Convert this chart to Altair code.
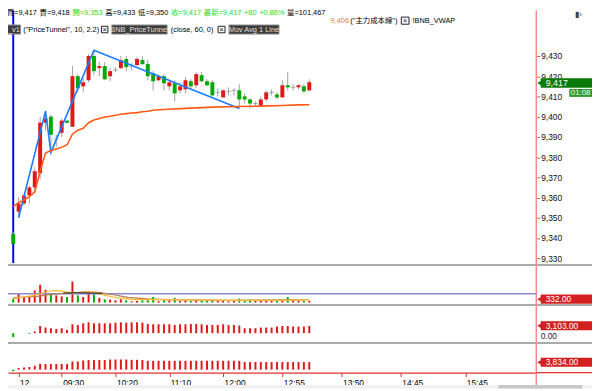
import altair as alt
import pandas as pd

FONT = "Liberation Sans, Arial, Noto Sans CJK TC, sans-serif"
RED = "#E01818"
GREEN = "#00AA00"
WICK = "#A0A0A0"

# ---------------- data ----------------
bar_index = list(range(56))
open_ = [9342, 9353, 9357, 9361, 9365, 9372, 9397, 9400, 9389, 9392, 9398, 9395, 9420, 9415, 9418, 9430,
         9424, 9425, 9420, 9423, 9424, 9428.5, 9425, 9425.5, 9428, 9426, 9421.5, 9418, 9420, 9415, 9416.5,
         9413, 9413.5, 9417.5, 9415.5, 9420.5, 9417.5, 9417, 9412, 9409.5, 9412.5, 9413, 9413, 9410, 9408.5,
         9406.5, 9405.5, 9408.5, 9412, 9411, 9409.5, 9415.5, 9414.5, 9414.5, 9415, 9413]
high = [9343, 9360, 9362, 9366, 9375, 9400, 9403, 9401, 9391, 9399, 9398.5, 9425, 9421, 9419, 9431, 9433,
        9427, 9427, 9424, 9424.5, 9430, 9430, 9426.5, 9429.5, 9430, 9428, 9422.5, 9421, 9421, 9418, 9418,
        9417, 9419.5, 9418.5, 9422, 9422, 9418.5, 9418, 9414, 9413.5, 9414.5, 9414, 9416, 9411.5, 9409,
        9407.5, 9410, 9413, 9413.5, 9412, 9418, 9422, 9416, 9416, 9416, 9418.5]
low = [9337, 9350, 9356, 9357, 9362, 9369, 9393, 9382, 9385, 9390, 9396.5, 9395, 9412, 9412, 9417, 9420.5,
       9420, 9418, 9417.5, 9422, 9423.5, 9422.5, 9423, 9425, 9425.5, 9418, 9413, 9417.5, 9413, 9413, 9407.5,
       9411.5, 9411.5, 9413.5, 9414, 9417, 9415, 9410, 9410, 9409.5, 9410.5, 9410.5, 9404, 9406.5, 9404,
       9405, 9405, 9407.5, 9410.5, 9408.5, 9409.5, 9413, 9413, 9413.5, 9411.5, 9412.5]
close = [9337, 9357, 9361, 9365, 9373, 9397, 9399, 9391, 9389, 9398, 9397, 9420, 9414, 9417, 9430, 9422.5,
         9425, 9418.5, 9422.5, 9423, 9428, 9424.5, 9425, 9428.5, 9426, 9420, 9417.5, 9420, 9416.5, 9417, 9411.5,
         9415, 9418, 9415, 9421, 9417.5, 9415.5, 9410.5, 9412, 9413, 9412.5, 9413, 9408.5, 9408.5, 9406.5,
         9406.5, 9408.5, 9412, 9412, 9409.5, 9415.5, 9414.5, 9414.5, 9415.5, 9412.5, 9417]
volume = [780, 1755, 1110, 1110, 2400, 3510, 2535, 1755, 1425, 1230, 1110, 4155, 1425, 1110, 2205, 1620,
          915, 645, 585, 450, 645, 450, 255, 330, 450, 585, 1110, 330, 450, 450, 915, 330, 450, 330, 450,
          330, 330, 585, 450, 330, 255, 330, 780, 450, 585, 330, 330, 450, 330, 330, 585, 1110, 450, 330,
          330, 332]
net_force = [-1700, 0, 0, -300, 720, 3100, 2420, 2125, 1830, 2125, 1400, 3825, 3530, 4250, 4675, 4250,
             4250, 4250, 4250, 4530, 4675, 4530, 4675, 4675, 4530, 3950, 3825, 3825, 3825, 3825, 3530, 3825,
             3825, 3950, 3950, 3825, 3530, 3530, 3530, 3825, 3530, 3530, 3270, 2125, 2125, 2125, 2420, 2420,
             2420, 2850, 3100, 3100, 2850, 2850, 2850, 3103]
main_force = [-800, 850, 1150, 1350, 2000, 3000, 2850, 2850, 2850, 2850, 2850, 4150, 4150, 4650, 4850,
              4850, 4850, 4850, 5150, 5150, 5150, 5150, 5000, 5000, 4850, 4500, 4500, 4500, 4500, 4500,
              4500, 4500, 4500, 4500, 4500, 4500, 4500, 4500, 4500, 4500, 4500, 4500, 4500, 3850, 3850,
              3850, 3850, 3850, 3850, 3850, 3850, 3850, 3850, 3850, 3850, 3834]

vwap_idx = [0, 1, 2, 3, 4, 5, 6, 7, 8, 9, 10, 11, 12, 13, 14, 15, 16, 17, 18, 19, 20, 21, 22, 23, 24, 25,
            26, 27, 28, 32, 37, 42, 46, 50, 53, 55]
vwap_val = [9355.5, 9357.5, 9358.8, 9360.4, 9362.8, 9373, 9382, 9383.2, 9384, 9384.8, 9386.1, 9391.3,
            9393.3, 9394.2, 9397, 9398.3, 9399.1, 9399.8, 9400.2, 9400.7, 9401.2, 9401.5, 9401.8, 9402,
            9402.4, 9402.7, 9403.2, 9403.4, 9403.5, 9404.1, 9404.7, 9405, 9405.2, 9405.5, 9405.8, 9405.9]
zig_idx = [1, 6, 7, 15, 42]
zig_val = [9350, 9402.7, 9382.3, 9432.8, 9404]

ma1_idx = [0, 2.1, 4.5, 6.3, 7.8, 9.3, 11.1, 13.5, 15.3, 17.1, 19.5, 22.5, 30, 40, 50, 55]
ma1_val = [780, 1110, 1560, 2200, 2400, 2200, 1890, 2145, 2090, 1425, 915, 585, 585, 450, 450, 585]
ma2_idx = [0, 2.1, 4.5, 6.9, 10.5, 13.5, 15.9, 18.9, 21.3, 24.9, 28.5, 40, 55]
ma2_val = [915, 1110, 1230, 1620, 1890, 2145, 2010, 1500, 1035, 720, 585, 450, 585]
ma3_idx = [9.3, 12, 16.5]
ma3_val = [1890, 1950, 1815]
vol_level = [1755]

tick_idx = [1, 9, 19, 29, 39, 50, 61, 72, 84]
tick_lab = ["12", "09:30", "10:20", "11:10", "12:00", "12:55", "13:50", "14:45", "15:45"]
price_ticks = [9330, 9340, 9350, 9360, 9370, 9380, 9390, 9400, 9410, 9420, 9430]

for arr in (open_, high, low, close, volume, net_force, main_force):
    assert len(arr) == len(bar_index), len(arr)

# ---------------- frames ----------------
cdf = pd.DataFrame({"i": bar_index, "o": open_, "h": high, "l": low, "c": close,
                    "vol": volume, "p3": net_force, "p4": main_force})
cdf["dir"] = ["up" if c > o else ("down" if c < o else "flat") for o, c in zip(open_, close)]
cdf["vdir"] = ["down" if c < o else "up" for o, c in zip(open_, close)]
cdf["d3"] = ["up" if v >= 0 else "down" for v in net_force]
cdf["d4"] = ["up" if v >= 0 else "down" for v in main_force]
vw = pd.DataFrame({"i": vwap_idx, "v": vwap_val})
zz = pd.DataFrame({"i": zig_idx, "v": zig_val})
ma1 = pd.DataFrame({"i": ma1_idx, "v": ma1_val})
ma2 = pd.DataFrame({"i": ma2_idx, "v": ma2_val})
ma3 = pd.DataFrame({"i": ma3_idx, "v": ma3_val})
lvl = pd.DataFrame({"v": vol_level})
sess = pd.DataFrame({"i": [0]})
one = pd.DataFrame({"k": [0]})

# ---------------- scales / axes ----------------
label_expr = " : ".join(f"datum.value == {v} ? '{t}'" for v, t in zip(tick_idx, tick_lab)) + " : ''"
xaxis = alt.Axis(values=tick_idx, labelExpr=label_expr, title=None, grid=False,
                 domainColor="#E03030", domainWidth=1.2, tickColor="#E03030", tickSize=4,
                 labelAlign="left", labelOffset=1, labelPadding=2, labelFontSize=8.5, labelFont=FONT,
                 labelColor="#000000", labelOverlap=False, labelBound=False, labelFlush=False)
xs = alt.Scale(domain=[-0.054, 96.349], nice=False, zero=False)
X = alt.X("i:Q", scale=xs, axis=xaxis)

ps = alt.Scale(domain=[9330, 9430], range=[251, 46], nice=False, zero=False)
vs = alt.Scale(domain=[0, 7215], range=[296, 259], nice=False)
s3 = alt.Scale(domain=[0, 11900], range=[327, 299], nice=False)
s4 = alt.Scale(domain=[0, 5000], range=[364, 354], nice=False)
price_axis = alt.Axis(orient="right", values=price_ticks, format=",d", domain=False, grid=False,
                      tickSize=3, tickColor="#E05050", labelFontSize=8.5, labelFont=FONT,
                      labelColor="#101010", labelPadding=1, title=None, zindex=0,
                      labelOverlap=False, labelBound=False, labelFlush=False)
col = alt.Color("dir:N", scale=alt.Scale(domain=["up", "down", "flat"], range=[RED, GREEN, WICK]), legend=None)


def T(s, x, y, color="#000000", size=8, align="left", weight="normal"):
    return alt.Chart(one).mark_text(text=s, align=align, baseline="middle", fontSize=size, font=FONT,
                                    color=color, fontWeight=weight).encode(x=alt.value(x), y=alt.value(y))


def R(x0, x1, y0, y1, fill, stroke=None, sw=1.0):
    kw = {"fill": fill}
    if stroke:
        kw["stroke"] = stroke
        kw["strokeWidth"] = sw
    return alt.Chart(one).mark_rect(**kw).encode(x=alt.value(x0), x2=alt.value(x1),
                                                 y=alt.value(y0), y2=alt.value(y1))


def H(y, x0, x1, color, w):
    return alt.Chart(one).mark_rule(color=color, strokeWidth=w).encode(
        x=alt.value(x0), x2=alt.value(x1), y=alt.value(y))


def TRI(x, y, color, size=34):
    return alt.Chart(one).mark_point(shape="triangle-left", filled=True, size=size, color=color,
                                     opacity=1).encode(x=alt.value(x), y=alt.value(y))


layers = []
# separators
layers += [H(258, -8, 592, "#8E8E8E", 1.5), H(298.5, -8, 592, "#8E8E8E", 1.5), H(337, -8, 592, "#8E8E8E", 1.5)]
# session start line
layers.append(alt.Chart(sess).mark_rule(color="#0000FF", strokeWidth=2).encode(
    x=X, y=alt.value(0), y2=alt.value(256)))
# candles
layers.append(alt.Chart(cdf).mark_rule(color=WICK, strokeWidth=1).encode(
    x=X, y=alt.Y("l:Q", scale=ps, axis=price_axis), y2="h:Q"))
layers.append(alt.Chart(cdf).transform_filter("datum.o != datum.c").mark_bar(size=4).encode(
    x=X, y=alt.Y("o:Q", scale=ps, axis=None), y2="c:Q", color=col))
layers.append(alt.Chart(cdf).transform_filter("datum.o == datum.c").mark_tick(
    orient="horizontal", size=5, thickness=1, color="#909090").encode(
    x=X, y=alt.Y("o:Q", scale=ps, axis=None)))
# indicators
layers.append(alt.Chart(zz).mark_line(color="#1A7CFF", strokeWidth=1.6).encode(
    x=X, y=alt.Y("v:Q", scale=ps, axis=None)))
layers.append(alt.Chart(vw).mark_line(color="#FF5A14", strokeWidth=1.6).encode(
    x=X, y=alt.Y("v:Q", scale=ps, axis=None)))

# volume panel
layers.append(alt.Chart(cdf).mark_bar(size=2).encode(
    x=X, y=alt.Y("vol:Q", scale=vs, axis=None),
    color=alt.Color("vdir:N", scale=alt.Scale(domain=["up", "down"], range=[RED, GREEN]), legend=None)))
layers.append(alt.Chart(lvl).mark_rule(color="#8A8AD0", strokeWidth=1.5).encode(
    y=alt.Y("v:Q", scale=vs, axis=None), x=alt.value(0), x2=alt.value(536)))
layers.append(alt.Chart(ma2).mark_line(color="#B08050", strokeWidth=1.2).encode(
    x=X, y=alt.Y("v:Q", scale=vs, axis=None)))
layers.append(alt.Chart(ma1).mark_line(color="#FFB830", strokeWidth=1.2).encode(
    x=X, y=alt.Y("v:Q", scale=vs, axis=None)))
layers.append(alt.Chart(ma3).mark_line(color="#202020", strokeWidth=1).encode(
    x=X, y=alt.Y("v:Q", scale=vs, axis=None)))

# panel 3 / panel 4
layers.append(alt.Chart(cdf).mark_bar(size=2).encode(
    x=X, y=alt.Y("p3:Q", scale=s3, axis=None),
    color=alt.Color("d3:N", scale=alt.Scale(domain=["up", "down"], range=[RED, GREEN]), legend=None)))
layers.append(alt.Chart(cdf).mark_bar(size=2).encode(
    x=X, y=alt.Y("p4:Q", scale=s4, axis=None),
    color=alt.Color("d4:N", scale=alt.Scale(domain=["up", "down"], range=[RED, GREEN]), legend=None)))

# right border line
layers.append(alt.Chart(one).mark_rule(color="#F28C8C", strokeWidth=1.5).encode(
    x=alt.value(535.5), y=alt.value(0), y2=alt.value(383)))
layers.append(H(367, 536, 592, "#E03030", 1.2))

# right tags
layers += [R(540, 592, 68.7, 78.3, "#0A7A0A"), TRI(539, 73.5, "#0A7A0A"),
           T("9,417", 545, 73.6, "#FFFFFF", 9),
           R(569, 592, 79.5, 87.5, "#2E9A2E"), T("01:08", 580.5, 83.6, "#EFFFEF", 8, "center")]
for yc, lab in [(292.5, "332.00"), (319.5, "3,103.00"), (356.5, "3,834.00")]:
    layers += [R(540, 592, yc - 4.6, yc + 4.6, "#D42020"), TRI(539, yc, "#D42020"),
               T(lab, 545, yc + 0.2, "#FFFFFF", 8.5)]
layers.append(T("0.00", 540, 329.5, "#202040", 8.5))

# header row 1 (laid out left to right)
row1_y = 2.2
x = -1.3
for s, w, c in [("買=9,417", 30.7, "#000000"), ("賣=9,418", 30.7, "#000000"), ("開=9,353", 30.7, "#22DD22"),
                ("高=9,433", 30.7, "#000000"), ("低=9,350", 30.7, "#000000"), ("收=9,417", 30.7, "#22DD22"),
                ("最新=9,417", 38.2, "#22DD22"), ("+80", 12.8, "#22DD22"), ("+0.86%", 25.6, "#22DD22"),
                ("量=101,467", 39.0, "#000000")]:
    layers.append(T(s, x, row1_y, c, 7.5))
    x += w + 2.6

# header row 2
ry = 19.2
layers += [R(-8, 12.7, ry - 4.6, ry + 4.6, "#3C3C3C", "#909090"), T("ar_v1", 12, ry, "#E0E0E0", 7.5, "right"),
           T('("PriceTunnel", 10, 2.2)', 15.5, ry, "#000000", 7.5),
           R(94.7, 101.3, ry - 3.3, ry + 3.3, "#FFFFFF", "#202020"), T("×", 98, ry, "#202020", 8, "center"),
           R(105.2, 161.3, ry - 4.6, ry + 4.6, "#3C3C3C", "#909090"),
           T("BNB_PriceTunnel", 133.2, ry, "#E0E0E0", 7.5, "center"),
           T("(close, 60, 0)", 165, ry, "#000000", 7.5),
           R(213, 220, ry - 3.3, ry + 3.3, "#FFFFFF", "#202020"), T("×", 216.5, ry, "#202020", 8, "center"),
           R(224, 274.7, ry - 4.6, ry + 4.6, "#3C3C3C", "#909090"),
           T("Mov Avg 1 Line", 249.3, ry, "#E0E0E0", 7.5, "center")]
vy = 10.2
layers += [T("9,406", 327, vy, "#FF7A30", 7.5), T('("主力成本線")', 347, vy, "#000000", 7.5),
           R(398.7, 406.5, vy - 3.6, vy + 3.6, "#FFFFFF", "#202020"), T("×", 402.6, vy, "#202020", 8, "center"),
           T("!BNB_VWAP", 410, vy, "#000000", 7.5)]
layers.append(T("▮›", 575, 4, "#404040", 8))

# bottom scroll strip
layers += [R(-8, 592, 379.5, 383, "#F0F0F0"), R(497, 582, 379.5, 383, "#C8C8C8")]

chart = alt.layer(*layers).resolve_scale(y="independent", color="independent").properties(
    width=536, height=367,
    padding={"left": 0, "top": 0, "right": 56, "bottom": 16},
    autosize=alt.AutoSizeParams(type="none"),
    background="#FFFFFF",
).configure_view(stroke=None)

chart.save("out.html", embed_options={"renderer": "svg", "actions": False})
